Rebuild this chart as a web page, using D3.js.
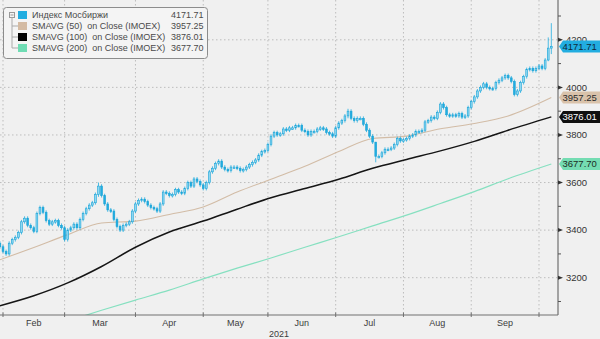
<!DOCTYPE html>
<html lang="en">
<head>
<meta charset="UTF-8"/>
<title>IMOEX with moving averages</title>
<script src="https://d3js.org/d3.v7.min.js"></script>
<style>
  body { margin: 0; background: #f0f0f0; }
  svg { display: block; font-family: "Liberation Sans", Arial, sans-serif; }
</style>
</head>
<body>
<script>
    // trading days shown (weekdays from 29 Jan to 7 Oct 2021)
    var firstDay = new Date(2021, 0, 29);
    var lastDay = new Date(2021, 9, 8);

    // daily close of the Moscow Exchange index, one value per weekday
    var closes = [
        3330, 3310, 3300, 3345, 3360, 3370, 3390, 3435, 3450, 3420,
        3410, 3395, 3470, 3495, 3475, 3440, 3425, 3435, 3440, 3420,
        3410, 3360, 3400, 3410, 3425, 3410, 3445, 3470, 3490, 3505,
        3515, 3550, 3585, 3545, 3510, 3485, 3480, 3445, 3415, 3400,
        3420, 3425, 3435, 3480, 3510, 3525, 3530, 3520, 3505, 3495,
        3490, 3480, 3510, 3560, 3555, 3545, 3550, 3570, 3560, 3555,
        3575, 3600, 3585, 3615, 3605, 3590, 3575, 3600, 3645, 3660,
        3680, 3690, 3665, 3655, 3650, 3665, 3665, 3660, 3650, 3655,
        3665, 3675, 3685, 3695, 3715, 3730, 3735, 3760, 3795, 3810,
        3800, 3805, 3825, 3820, 3830, 3830, 3840, 3840, 3820, 3815,
        3800, 3815, 3815, 3825, 3830, 3825, 3810, 3805, 3795, 3830,
        3850, 3860, 3880, 3900, 3870, 3860, 3870, 3870, 3845, 3820,
        3795, 3770, 3710, 3710, 3725, 3740, 3740, 3745, 3760, 3785,
        3775, 3780, 3785, 3795, 3800, 3815, 3815, 3820, 3855, 3860,
        3875, 3870, 3895, 3930, 3915, 3885, 3880, 3885, 3880, 3890,
        3875, 3880, 3915, 3940, 3960, 3985, 4000, 4015, 4000, 3995,
        3995, 4020, 4030, 4040, 4050, 4040, 4025, 3970, 3985, 4020,
        4045, 4075, 4080, 4070, 4080, 4090, 4080, 4115, 4165, 4171.71
    ];

    // a few visible wick extremes (day index -> [low, high])
    var wickExtremes = { 32: [3540, 3600], 113: [3870, 3910], 122: [3685, 3770], 178: [4110, 4210], 179: [4140, 4270] };

    // moving averages at some day indexes
    var smaDays = [0, 11, 22, 33, 44, 55, 66, 77, 88, 99, 110, 121, 132, 143, 154, 165, 179];
    var sma50  = [3275, 3327, 3381, 3430, 3438, 3466, 3497, 3560, 3614, 3668, 3730, 3785, 3795, 3826, 3848, 3880, 3957.25];
    var sma100 = [3082, 3124, 3178, 3247, 3328, 3392, 3438, 3488, 3536, 3575, 3614, 3660, 3697, 3733, 3773, 3820, 3876.01];
    var sma200Days = [20, 22, 33, 44, 55, 66, 77, 88, 99, 110, 121, 132, 143, 154, 165, 179];
    var sma200 = [3010, 3018, 3063, 3106, 3148, 3195, 3240, 3283, 3328, 3372, 3418, 3463, 3512, 3562, 3616, 3677.70];

    var monthNames = ["Feb", "Mar", "Apr", "May", "Jun", "Jul", "Aug", "Sep"];
    var yTicks = [3200, 3400, 3600, 3800, 4000, 4200];
    var yMinorTicks = [3100, 3300, 3500, 3700, 3900, 4100, 4300];

    var legendNames = ["Индекс Мосбиржи", "SMAVG (50)  on Close (IMOEX)", "SMAVG (100)  on Close (IMOEX)", "SMAVG (200)  on Close (IMOEX)"];
    var legendValues = ["4171.71", "3957.25", "3876.01", "3677.70"];

    //chart dimensions
    var w = 600;
    var h = 339;
    var plotRight = 558;
    var plotBottom = 315;

    var colIndex = "#22ade0";
    var col50 = "#d2bca6";
    var col100 = "#151515";
    var col200 = "#86e0c0";

    var days = d3.timeDay.range(firstDay, lastDay).filter(function (d) {
        return d.getDay() !== 0 && d.getDay() !== 6;
    });

    // first trading day of each month Feb..Oct
    var monthStarts = [];
    days.forEach(function (d, i) {
        if (i > 0 && d.getMonth() !== days[i - 1].getMonth()) monthStarts.push(i);
    });

    var xScale = d3.scaleLinear().domain([1, 175]).range([3, 539]);
    var yScale = d3.scaleLinear().domain([3200, 4200]).range([277.7, 39.8]);

    var svg = d3.select("body")
        .append("svg")
        .attr("width", w)
        .attr("height", h);

    svg.append("rect").attr("width", w).attr("height", h).attr("fill", "#f0f0f0");

    svg.append("clipPath").attr("id", "plot")
        .append("rect").attr("x", 0).attr("y", 0).attr("width", plotRight).attr("height", plotBottom);

    //grid lines
    svg.append("g").selectAll("line")
        .data(yTicks)
        .enter()
        .append("line")
        .attr("x1", 0)
        .attr("x2", plotRight)
        .attr("y1", function (d) { return yScale(d); })
        .attr("y2", function (d) { return yScale(d); })
        .attr("stroke", "#bdbdbd")
        .attr("stroke-dasharray", "1.5,2.5");

    svg.append("g").selectAll("line")
        .data(monthStarts)
        .enter()
        .append("line")
        .attr("x1", function (d) { return xScale(d); })
        .attr("x2", function (d) { return xScale(d); })
        .attr("y1", 0)
        .attr("y2", plotBottom)
        .attr("stroke", "#bdbdbd")
        .attr("stroke-dasharray", "1.5,2.5");

    var plot = svg.append("g").attr("clip-path", "url(#plot)");

    //moving averages
    function drawLine(xs, ys, color, width) {
        var line = d3.line()
            .x(function (d, i) { return xScale(xs[i]); })
            .y(function (d) { return yScale(d); })
            .curve(d3.curveMonotoneX);
        plot.append("path")
            .datum(ys)
            .attr("d", line)
            .attr("fill", "none")
            .attr("stroke", color)
            .attr("stroke-width", width);
    }
    drawLine(sma200Days, sma200, col200, 1.2);
    drawLine(smaDays, sma50, col50, 1.1);
    drawLine(smaDays, sma100, col100, 1.5);

    //candles (open taken as previous close)
    var candles = closes.map(function (c, i) {
        var o = i > 0 ? closes[i - 1] : c + 15;
        var ext = wickExtremes[i] || [Math.min(o, c) - 8, Math.max(o, c) + 8];
        return { i: i, o: o, c: c, lo: ext[0], hi: ext[1] };
    });

    plot.append("g").selectAll("line")
        .data(candles)
        .enter()
        .append("line")
        .attr("x1", function (d) { return xScale(d.i); })
        .attr("x2", function (d) { return xScale(d.i); })
        .attr("y1", function (d) { return yScale(d.hi); })
        .attr("y2", function (d) { return yScale(d.lo); })
        .attr("stroke", colIndex)
        .attr("stroke-width", 0.8);

    plot.append("g").selectAll("rect")
        .data(candles)
        .enter()
        .append("rect")
        .attr("x", function (d) { return xScale(d.i) - 0.9; })
        .attr("width", 1.8)
        .attr("y", function (d) { return yScale(Math.max(d.o, d.c)); })
        .attr("height", function (d) { return Math.max(1.5, Math.abs(yScale(d.o) - yScale(d.c))); })
        .attr("fill", function (d) { return d.c >= d.o ? "#8fd8f2" : colIndex; })
        .attr("stroke", "#1ba4d8")
        .attr("stroke-width", 0.6);

    //bottom axis
    svg.append("line")
        .attr("x1", 0).attr("x2", plotRight)
        .attr("y1", plotBottom).attr("y2", plotBottom)
        .attr("stroke", "#707070");

    svg.append("g").selectAll("line")
        .data(monthStarts)
        .enter()
        .append("line")
        .attr("x1", function (d) { return xScale(d); })
        .attr("x2", function (d) { return xScale(d); })
        .attr("y1", plotBottom - 2.5)
        .attr("y2", plotBottom + 2)
        .attr("stroke", "#707070");

    svg.append("g").selectAll("text")
        .data(monthNames)
        .enter()
        .append("text")
        .attr("x", function (d, i) { return (xScale(monthStarts[i]) + xScale(monthStarts[i + 1])) / 2; })
        .attr("y", 326)
        .attr("text-anchor", "middle")
        .attr("font-size", "9px")
        .attr("fill", "#3c3c3c")
        .text(function (d) { return d; });

    svg.append("text")
        .attr("x", plotRight / 2)
        .attr("y", 337)
        .attr("text-anchor", "middle")
        .attr("font-size", "9px")
        .attr("fill", "#3c3c3c")
        .text("2021");

    //right axis
    svg.append("line")
        .attr("x1", plotRight).attr("x2", plotRight)
        .attr("y1", 0).attr("y2", plotBottom)
        .attr("stroke", "#707070")
        .attr("stroke-width", 1.2);

    svg.append("g").selectAll("line")
        .data(yMinorTicks)
        .enter()
        .append("line")
        .attr("x1", plotRight)
        .attr("x2", plotRight + 3)
        .attr("y1", function (d) { return yScale(d); })
        .attr("y2", function (d) { return yScale(d); })
        .attr("stroke", "#555");

    svg.append("g").selectAll("path")
        .data(yTicks)
        .enter()
        .append("path")
        .attr("d", function (d) {
            var y = yScale(d);
            return "M" + plotRight + "," + (y - 2) + "L" + (plotRight + 5) + "," + y + "L" + plotRight + "," + (y + 2) + "Z";
        })
        .attr("fill", "#333");

    svg.append("g").selectAll("text")
        .data(yTicks)
        .enter()
        .append("text")
        .attr("x", plotRight + 8)
        .attr("y", function (d) { return yScale(d) + 3.3; })
        .attr("font-size", "9.5px")
        .attr("fill", "#333")
        .text(function (d) { return d; });

    //last value tags
    var tags = [
        { v: closes[closes.length - 1], fill: colIndex, text: "#0d2a3a" },
        { v: sma50[sma50.length - 1], fill: "#d9c2aa", text: "#2a2a2a" },
        { v: sma100[sma100.length - 1], fill: "#101010", text: "#ffffff" },
        { v: sma200[sma200.length - 1], fill: "#74dcb2", text: "#1c2c24" }
    ];

    var tag = svg.append("g").selectAll("g")
        .data(tags)
        .enter()
        .append("g")
        .attr("transform", function (d) { return "translate(0," + yScale(d.v) + ")"; });

    tag.append("path")
        .attr("d", "M559,0 L563,-6 L600,-6 L600,6 L563,6 Z")
        .attr("fill", function (d) { return d.fill; });

    tag.append("text")
        .attr("x", 562.5)
        .attr("y", 3.4)
        .attr("font-size", "9.5px")
        .attr("fill", function (d) { return d.text; })
        .text(function (d) { return d.v.toFixed(2); });

    //legend
    var legend = svg.append("g");
    legend.append("rect")
        .attr("x", 3.5).attr("y", 7.5)
        .attr("width", 204).attr("height", 51)
        .attr("rx", 3)
        .attr("fill", "#f4f4f4")
        .attr("stroke", "#8c8c8c");

    legend.append("rect")
        .attr("x", 9.5).attr("y", 12.5).attr("width", 5).attr("height", 5)
        .attr("fill", "none").attr("stroke", "#999");
    legend.append("line")
        .attr("x1", 10.5).attr("x2", 13.5).attr("y1", 15).attr("y2", 15)
        .attr("stroke", "#999");
    legend.append("line")
        .attr("x1", 12).attr("x2", 12).attr("y1", 17.5).attr("y2", 48)
        .attr("stroke", "#aaa");

    var swatchCols = [colIndex, "#d4bba3", "#000000", "#6fdcb4"];
    var rows = legend.selectAll("g.row")
        .data(legendNames)
        .enter()
        .append("g")
        .attr("class", "row")
        .attr("transform", function (d, i) { return "translate(0," + (15 + i * 11) + ")"; });

    rows.filter(function (d, i) { return i > 0; })
        .append("line")
        .attr("x1", 12).attr("x2", 18).attr("y1", 0).attr("y2", 0)
        .attr("stroke", "#aaa");

    rows.append("rect")
        .attr("x", 18).attr("y", -4)
        .attr("width", 9).attr("height", 8)
        .attr("fill", function (d, i) { return swatchCols[i]; });

    rows.append("text")
        .attr("x", 32).attr("y", 3.3)
        .attr("font-size", "9px")
        .attr("fill", "#4a4a4a")
        .attr("xml:space", "preserve")
        .style("white-space", "pre")
        .text(function (d) { return d; });

    rows.append("text")
        .attr("x", 171).attr("y", 3.3)
        .attr("font-size", "9px")
        .attr("fill", "#4a4a4a")
        .text(function (d, i) { return legendValues[i]; });
</script>
</body>
</html>
